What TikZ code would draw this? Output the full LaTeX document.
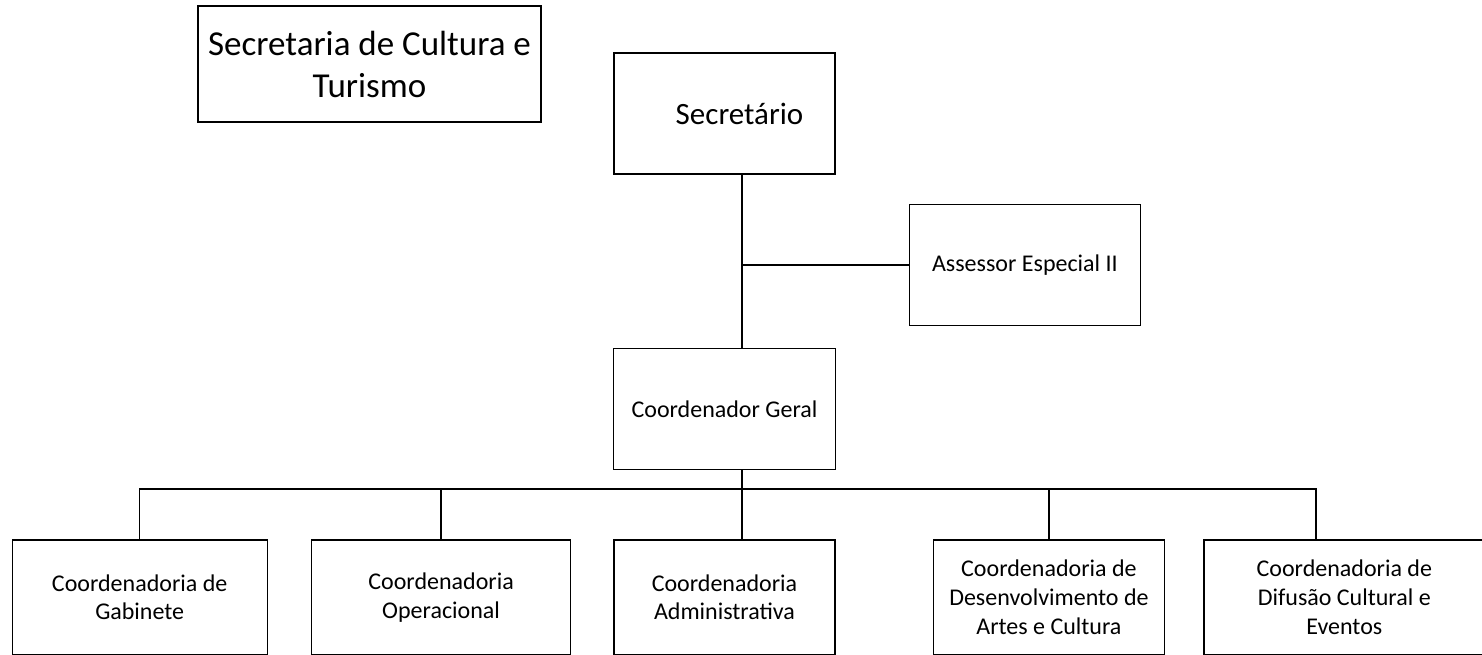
\documentclass[tikz,border=0pt]{standalone}
\usepackage{fontspec}
\setmainfont{Carlito}
\usetikzlibrary{positioning}

\begin{document}
\begin{tikzpicture}[x=1pt, y=1pt,
    cargo/.style={draw, line width=1.4pt, inner sep=0pt, align=center,
      minimum height=121pt, font=\fontsize{24}{28.8}\selectfont},
    setor/.style={cargo, minimum height=115pt},
    ligacao/.style={line width=1.4pt}]
   \useasboundingbox (0,0) rectangle (1482,-654);
   \node[cargo,
          minimum width=343pt,
          minimum height=116pt,
          font=\fontsize{35}{42}\selectfont] (titulo) at (369.5,-64)
          {Secretaria de Cultura e\\Turismo};
   \node[cargo,
          minimum width=221pt,
          font=\fontsize{31}{37}\selectfont] (sec) at (724.5,-113.5) {\hspace*{30pt}Secretário};
   \node[cargo,
          minimum width=231pt,
          below right=29pt and 73pt of sec] (asr) {Assessor Especial II};
   \node[cargo,
          minimum width=222pt,
          below=173pt of sec] (coord) {Coordenador Geral};
   \node[setor,
          minimum width=221pt,
          below=69pt of coord] (adm) {Coordenadoria\\Administrativa};
   \node[setor,
          minimum width=259pt,
          left=42pt of adm] (ope) {Coordenadoria\\Operacional};
   \node[setor,
          minimum width=255pt,
          left=43pt of ope] (gab) {Coordenadoria de\\Gabinete};
   \node[setor,
          minimum width=231pt,
          right=97pt of adm] (art) {Coordenadoria de\\Desenvolvimento de\\Artes e Cultura};
   \node[setor,
          minimum width=281pt,
          right=38pt of art] (dif) {Coordenadoria de\\Difusão Cultural e\\Eventos};
   % linhas do organograma
   \coordinate (bus) at (742,-489);
   \coordinate (d5) at (1316,-489);
   \draw[ligacao] (sec.south -| bus) -- (coord.north -| bus);
   \draw[ligacao] (asr.west) -- (asr.west -| bus);
   \draw[ligacao] (coord.south -| bus) -- (bus) -- (bus |- adm.north);
   \draw[ligacao] (gab.north) |- (d5) -- (d5 |- dif.north);
   \draw[ligacao] (ope.north) -- (ope.north |- bus);
   \draw[ligacao] (art.north) -- (art.north |- bus);
\end{tikzpicture}
\end{document}
